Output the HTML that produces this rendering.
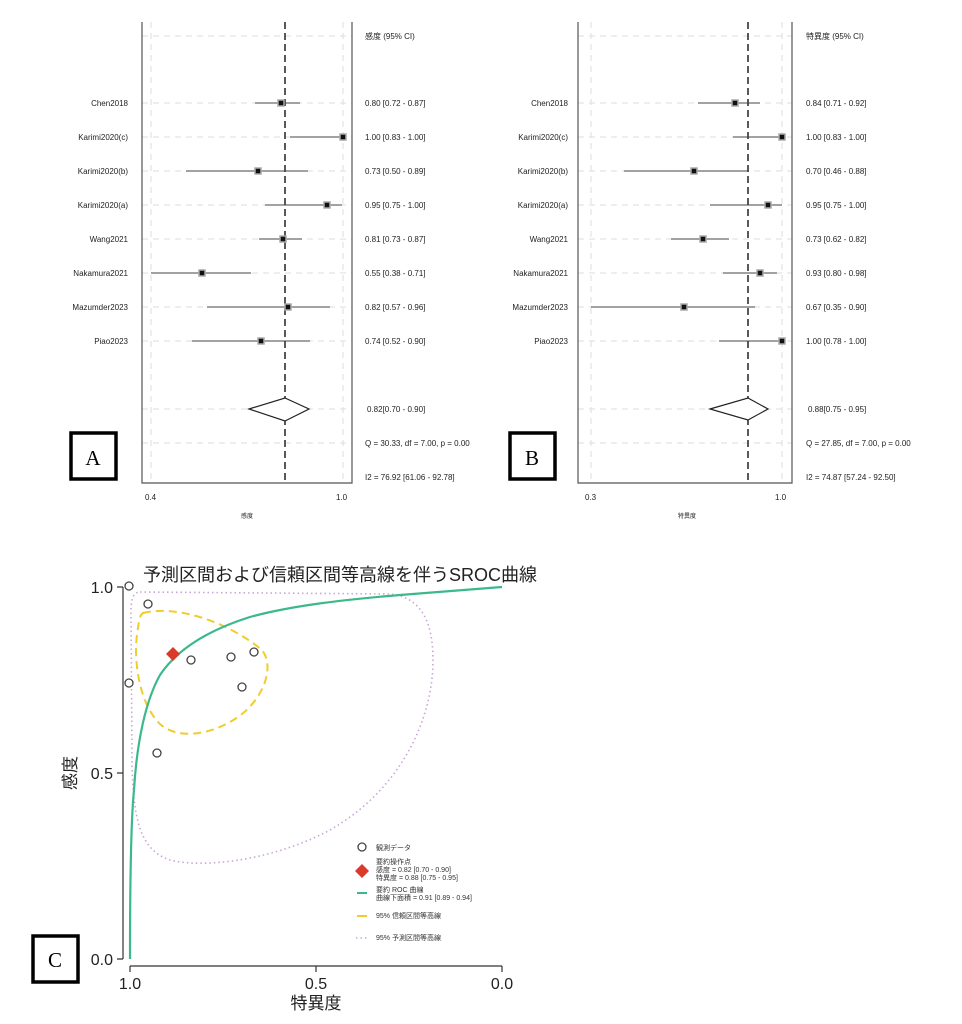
<!DOCTYPE html>
<html><head><meta charset="utf-8"><style>
body{margin:0;background:#fff}
svg{display:block}
text{font-family:"Liberation Sans","Noto Sans CJK JP",sans-serif}
</style></head><body>
<svg width="962" height="1024" viewBox="0 0 962 1024" xmlns="http://www.w3.org/2000/svg">
<rect width="962" height="1024" fill="#fff"/>

<!-- Panel A -->
<g>
<g stroke="#ddd" stroke-dasharray="6,5" stroke-width="1">
<line x1="151" y1="22" x2="151" y2="483"/><line x1="343" y1="22" x2="343" y2="483"/>
<line x1="142" y1="36" x2="352" y2="36"/>
<line x1="142" y1="103" x2="352" y2="103"/><line x1="142" y1="137" x2="352" y2="137"/>
<line x1="142" y1="171" x2="352" y2="171"/><line x1="142" y1="205" x2="352" y2="205"/>
<line x1="142" y1="239" x2="352" y2="239"/><line x1="142" y1="273" x2="352" y2="273"/>
<line x1="142" y1="307" x2="352" y2="307"/><line x1="142" y1="341" x2="352" y2="341"/>
<line x1="142" y1="409" x2="352" y2="409"/><line x1="142" y1="443" x2="352" y2="443"/>
</g>
<path d="M142,22 V483 H352 V22" fill="none" stroke="#555" stroke-width="1.2"/>
<line x1="285" y1="22" x2="285" y2="483" stroke="#222" stroke-width="1.5" stroke-dasharray="7,4"/>
<g stroke="#444" stroke-width="1">
<line x1="255" y1="103" x2="300" y2="103"/><line x1="290" y1="137" x2="343" y2="137"/>
<line x1="186" y1="171" x2="308" y2="171"/><line x1="265" y1="205" x2="342" y2="205"/>
<line x1="259" y1="239" x2="302" y2="239"/><line x1="151" y1="273" x2="251" y2="273"/>
<line x1="207" y1="307" x2="330" y2="307"/><line x1="192" y1="341" x2="310" y2="341"/>
</g>
<g fill="#111" stroke="#aaa" stroke-width="1.5">
<rect x="278" y="100" width="6" height="6"/><rect x="340" y="134" width="6" height="6"/>
<rect x="255" y="168" width="6" height="6"/><rect x="324" y="202" width="6" height="6"/>
<rect x="280" y="236" width="6" height="6"/><rect x="199" y="270" width="6" height="6"/>
<rect x="285" y="304" width="6" height="6"/><rect x="258" y="338" width="6" height="6"/>
</g>
<polygon points="249,409 285,398 309,409 285,421" fill="#fff" stroke="#222" stroke-width="1.2"/>
<g font-size="8" fill="#222" text-anchor="end">
<text x="128" y="106">Chen2018</text><text x="128" y="140">Karimi2020(c)</text>
<text x="128" y="174">Karimi2020(b)</text><text x="128" y="208">Karimi2020(a)</text>
<text x="128" y="242">Wang2021</text><text x="128" y="276">Nakamura2021</text>
<text x="128" y="310">Mazumder2023</text><text x="128" y="344">Piao2023</text>
</g>
<g font-size="8" fill="#222">
<text x="365" y="39">感度 (95% CI)</text>
<text x="365" y="106">0.80 [0.72 - 0.87]</text><text x="365" y="140">1.00 [0.83 - 1.00]</text>
<text x="365" y="174">0.73 [0.50 - 0.89]</text><text x="365" y="208">0.95 [0.75 - 1.00]</text>
<text x="365" y="242">0.81 [0.73 - 0.87]</text><text x="365" y="276">0.55 [0.38 - 0.71]</text>
<text x="365" y="310">0.82 [0.57 - 0.96]</text><text x="365" y="344">0.74 [0.52 - 0.90]</text>
<text x="367" y="412">0.82[0.70 - 0.90]</text>
<text x="365" y="446">Q = 30.33, df = 7.00, p =  0.00</text>
<text x="365" y="480">I2 = 76.92 [61.06 - 92.78]</text>
<text x="145" y="500">0.4</text><text x="336" y="500">1.0</text>
<text x="241" y="518" font-size="6">感度</text>
</g>
<rect x="71" y="433" width="45" height="46" fill="#fff" stroke="#000" stroke-width="3.5"/>
<text x="93" y="465" style="font-family:'Liberation Serif',serif;font-size:21px" text-anchor="middle">A</text>
</g>

<!-- Panel B -->
<g>
<g stroke="#ddd" stroke-dasharray="6,5" stroke-width="1">
<line x1="591" y1="22" x2="591" y2="483"/><line x1="782" y1="22" x2="782" y2="483"/>
<line x1="578" y1="36" x2="792" y2="36"/>
<line x1="578" y1="103" x2="792" y2="103"/><line x1="578" y1="137" x2="792" y2="137"/>
<line x1="578" y1="171" x2="792" y2="171"/><line x1="578" y1="205" x2="792" y2="205"/>
<line x1="578" y1="239" x2="792" y2="239"/><line x1="578" y1="273" x2="792" y2="273"/>
<line x1="578" y1="307" x2="792" y2="307"/><line x1="578" y1="341" x2="792" y2="341"/>
<line x1="578" y1="409" x2="792" y2="409"/><line x1="578" y1="443" x2="792" y2="443"/>
</g>
<path d="M578,22 V483 H792 V22" fill="none" stroke="#555" stroke-width="1.2"/>
<line x1="748" y1="22" x2="748" y2="483" stroke="#222" stroke-width="1.5" stroke-dasharray="7,4"/>
<g stroke="#444" stroke-width="1">
<line x1="698" y1="103" x2="760" y2="103"/><line x1="733" y1="137" x2="782" y2="137"/>
<line x1="624" y1="171" x2="749" y2="171"/><line x1="710" y1="205" x2="782" y2="205"/>
<line x1="671" y1="239" x2="729" y2="239"/><line x1="723" y1="273" x2="777" y2="273"/>
<line x1="591" y1="307" x2="755" y2="307"/><line x1="719" y1="341" x2="782" y2="341"/>
</g>
<g fill="#111" stroke="#aaa" stroke-width="1.5">
<rect x="732" y="100" width="6" height="6"/><rect x="779" y="134" width="6" height="6"/>
<rect x="691" y="168" width="6" height="6"/><rect x="765" y="202" width="6" height="6"/>
<rect x="700" y="236" width="6" height="6"/><rect x="757" y="270" width="6" height="6"/>
<rect x="681" y="304" width="6" height="6"/><rect x="779" y="338" width="6" height="6"/>
</g>
<polygon points="710,409 748,398 768,409 748,420" fill="#fff" stroke="#222" stroke-width="1.2"/>
<g font-size="8" fill="#222" text-anchor="end">
<text x="568" y="106">Chen2018</text><text x="568" y="140">Karimi2020(c)</text>
<text x="568" y="174">Karimi2020(b)</text><text x="568" y="208">Karimi2020(a)</text>
<text x="568" y="242">Wang2021</text><text x="568" y="276">Nakamura2021</text>
<text x="568" y="310">Mazumder2023</text><text x="568" y="344">Piao2023</text>
</g>
<g font-size="8" fill="#222">
<text x="806" y="39">特異度 (95% CI)</text>
<text x="806" y="106">0.84 [0.71 - 0.92]</text><text x="806" y="140">1.00 [0.83 - 1.00]</text>
<text x="806" y="174">0.70 [0.46 - 0.88]</text><text x="806" y="208">0.95 [0.75 - 1.00]</text>
<text x="806" y="242">0.73 [0.62 - 0.82]</text><text x="806" y="276">0.93 [0.80 - 0.98]</text>
<text x="806" y="310">0.67 [0.35 - 0.90]</text><text x="806" y="344">1.00 [0.78 - 1.00]</text>
<text x="808" y="412">0.88[0.75 - 0.95]</text>
<text x="806" y="446">Q = 27.85, df = 7.00, p =  0.00</text>
<text x="806" y="480">I2 = 74.87 [57.24 - 92.50]</text>
<text x="585" y="500">0.3</text><text x="775" y="500">1.0</text>
<text x="678" y="518" font-size="6">特異度</text>
</g>
<rect x="510" y="433" width="45" height="46" fill="#fff" stroke="#000" stroke-width="3.5"/>
<text x="532" y="465" style="font-family:'Liberation Serif',serif;font-size:21px" text-anchor="middle">B</text>
</g>

<!-- Panel C -->
<g>
<text x="340" y="581" font-size="18" text-anchor="middle" fill="#222">予測区間および信頼区間等高線を伴うSROC曲線</text>
<g stroke="#333" stroke-width="1.2" fill="none">
<path d="M123,587 V959"/><path d="M117,587 H123 M117,773 H123 M117,959 H123"/>
<path d="M130,966 H502"/><path d="M130,966 V972 M316,966 V972 M502,966 V972"/>
</g>
<g font-size="16" fill="#222">
<text x="113" y="593" text-anchor="end">1.0</text>
<text x="113" y="779" text-anchor="end">0.5</text>
<text x="113" y="965" text-anchor="end">0.0</text>
<text x="130" y="989" text-anchor="middle">1.0</text>
<text x="316" y="989" text-anchor="middle">0.5</text>
<text x="502" y="989" text-anchor="middle">0.0</text>
<text x="316" y="1009" text-anchor="middle" font-size="17">特異度</text>
<text transform="translate(76,773) rotate(-90)" text-anchor="middle" font-size="17">感度</text>
</g>
<path d="M140,592 L390,594 C420,597 433,620 433,660 C433,720 400,790 330,830 C270,862 200,868 170,860 C140,850 133,820 132,760 L131,610 C131,598 134,592 140,592 Z" fill="none" stroke="#c9a6d8" stroke-width="1.6" stroke-dasharray="1.5,3"/>
<path d="M143,613 C180,604 232,625 262,650 C276,668 262,702 235,719 C210,735 178,740 160,724 C140,705 132,660 138,628 C139,620 140,615 143,613 Z" fill="none" stroke="#f0cc2c" stroke-width="2" stroke-dasharray="8,5"/>
<path d="M130,959 C130,880 131,820 134,790 C137,740 146,700 160,675 C180,645 215,628 250,617 C290,606 340,600 400,595 C440,592 480,589 502,587" fill="none" stroke="#3cb98a" stroke-width="2.2"/>
<g fill="#fff" stroke="#444" stroke-width="1.3">
<circle cx="129" cy="586" r="4"/><circle cx="148" cy="604" r="4"/>
<circle cx="191" cy="660" r="4"/><circle cx="231" cy="657" r="4"/>
<circle cx="254" cy="652" r="4"/><circle cx="129" cy="683" r="4"/>
<circle cx="242" cy="687" r="4"/><circle cx="157" cy="753" r="4"/>
</g>
<polygon points="173,647 180,654 173,661 166,654" fill="#d93a2a"/>
<circle cx="362" cy="847" r="4" fill="#fff" stroke="#444" stroke-width="1.3"/>
<polygon points="362,864 369,871 362,878 355,871" fill="#d93a2a"/>
<line x1="357" y1="893" x2="367" y2="893" stroke="#3cb98a" stroke-width="2"/>
<line x1="357" y1="916" x2="367" y2="916" stroke="#f0cc2c" stroke-width="2"/>
<line x1="356" y1="938" x2="368" y2="938" stroke="#c9a6d8" stroke-width="1.6" stroke-dasharray="1.5,3"/>
<g font-size="7" fill="#333">
<text x="376" y="850">観測データ</text>
<text x="376" y="864">要約操作点</text>
<text x="376" y="872">感度 = 0.82 [0.70 - 0.90]</text>
<text x="376" y="880">特異度 = 0.88 [0.75 - 0.95]</text>
<text x="376" y="892">要約 ROC 曲線</text>
<text x="376" y="900">曲線下面積 = 0.91 [0.89 - 0.94]</text>
<text x="376" y="918">95% 信頼区間等高線</text>
<text x="376" y="940">95% 予測区間等高線</text>
</g>
<rect x="33" y="936" width="45" height="46" fill="#fff" stroke="#000" stroke-width="3.5"/>
<text x="55" y="967" style="font-family:'Liberation Serif',serif;font-size:21px" text-anchor="middle">C</text>
</g>
</svg>
</body></html>
